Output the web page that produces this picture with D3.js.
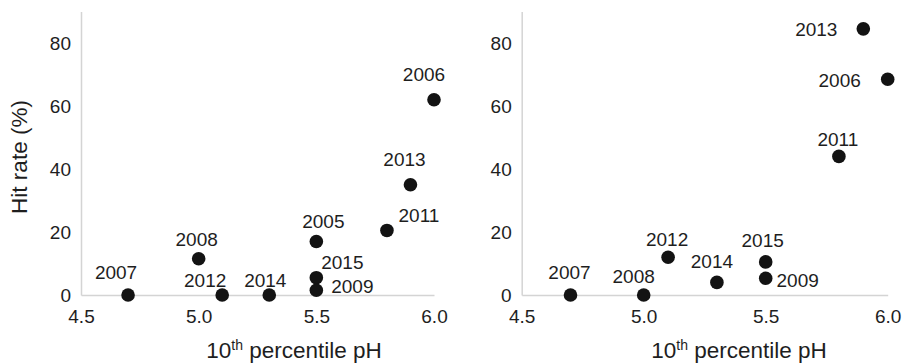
<!DOCTYPE html>
<html>
<head>
<meta charset="utf-8">
<script src="https://cdn.jsdelivr.net/npm/d3@7"></script>
<style>
  html, body { margin: 0; padding: 0; background: #fff; }
  svg { display: block; font-family: "Liberation Sans", Arial, sans-serif; }
</style>
</head>
<body>
<svg id="chart" width="914" height="363"></svg>
<script>
// Hit rate against 10th percentile pH, two panels
const leftYears = [2007, 2008, 2012, 2014, 2005, 2015, 2009, 2011, 2013, 2006];
const leftPH    = [4.7, 5.0, 5.1, 5.3, 5.5, 5.5, 5.5, 5.8, 5.9, 6.0];
const leftRate  = [0, 11.5, 0, 0, 17, 5.5, 1.5, 20.5, 35, 62];

const rightYears = [2007, 2008, 2012, 2014, 2015, 2009, 2011, 2013, 2006];
const rightPH    = [4.7, 5.0, 5.1, 5.3, 5.5, 5.5, 5.8, 5.9, 6.0];
const rightRate  = [0, 0, 12, 4, 10.5, 5.3, 44, 84.5, 68.5];

const xTicks = [4.5, 5.0, 5.5, 6.0];
const yTicks = [0, 20, 40, 60, 80];
const xDomain = [4.5, 6.0];
const yDomain = [0, 90];

// Label placement relative to each dot (px): [dx, dy to baseline]
const leftLabelOffsets = {
  2007: [-12, -16], 2008: [-2, -13], 2012: [-17, -8], 2014: [-4, -8],
  2005: [7, -13], 2015: [26, -9], 2009: [36, 3], 2011: [32, -8],
  2013: [-6, -19], 2006: [-10, -19]
};
const rightLabelOffsets = {
  2007: [-1, -16], 2008: [-10, -12], 2012: [-1, -11], 2014: [-5, -14],
  2015: [-3, -15], 2009: [32, 9], 2011: [-1, -10], 2013: [-47, 7],
  2006: [-48, 8]
};

const svg = d3.select("#chart");
const axisColor = "#d4d4d4";
const textColor = "#1e1e1e";
const dotColor = "#131313";
const labelSize = "19px";

function panel(cfg) {
  const x = d3.scaleLinear().domain(xDomain).range([cfg.x0, cfg.x1]);
  const y = d3.scaleLinear().domain(yDomain).range([295, 11.5]);
  const g = svg.append("g");

  const xAxis = g.append("g")
    .attr("transform", `translate(0,${y(0)})`)
    .call(d3.axisBottom(x).tickValues(xTicks).tickFormat(d3.format(".1f"))
      .tickSize(0).tickPadding(15));
  const yAxis = g.append("g")
    .attr("transform", `translate(${cfg.x0},0)`)
    .call(d3.axisLeft(y).tickValues(yTicks).tickSize(0).tickPadding(10));

  [xAxis, yAxis].forEach(a => {
    a.select(".domain").attr("stroke", axisColor).attr("stroke-width", 1.5);
    a.selectAll("text").attr("fill", textColor)
      .style("font-size", labelSize).style("font-family", "Liberation Sans, Arial, sans-serif");
  });

  const data = cfg.years.map((yr, i) => ({ yr, ph: cfg.ph[i], rate: cfg.rate[i] }));

  g.selectAll("circle.dot").data(data).join("circle")
    .attr("class", "dot")
    .attr("cx", d => x(d.ph))
    .attr("cy", d => y(d.rate))
    .attr("r", 6.8)
    .attr("fill", dotColor);

  g.selectAll("text.yr").data(data).join("text")
    .attr("class", "yr")
    .attr("x", d => x(d.ph) + cfg.offsets[d.yr][0])
    .attr("y", d => y(d.rate) + cfg.offsets[d.yr][1])
    .attr("text-anchor", "middle")
    .attr("fill", textColor)
    .style("font-size", labelSize)
    .text(d => d.yr);

  // x axis title with superscript
  const t = g.append("text")
    .attr("x", cfg.titleX).attr("y", 358)
    .attr("text-anchor", "middle")
    .attr("fill", textColor)
    .style("font-size", "22.5px");
  t.append("tspan").text("10");
  t.append("tspan").attr("dy", -8).style("font-size", "14px").text("th");
  t.append("tspan").attr("dy", 8).text(" percentile pH");

  if (cfg.yTitle) {
    g.append("text")
      .attr("transform", `translate(27,157) rotate(-90)`)
      .attr("text-anchor", "middle")
      .attr("fill", textColor)
      .style("font-size", "22.5px")
      .text("Hit rate (%)");
  }
}

panel({ x0: 81, x1: 434, years: leftYears, ph: leftPH, rate: leftRate,
        offsets: leftLabelOffsets, titleX: 294, yTitle: true });
panel({ x0: 521.7, x1: 887.7, years: rightYears, ph: rightPH, rate: rightRate,
        offsets: rightLabelOffsets, titleX: 739, yTitle: false });
</script>
</body>
</html>
